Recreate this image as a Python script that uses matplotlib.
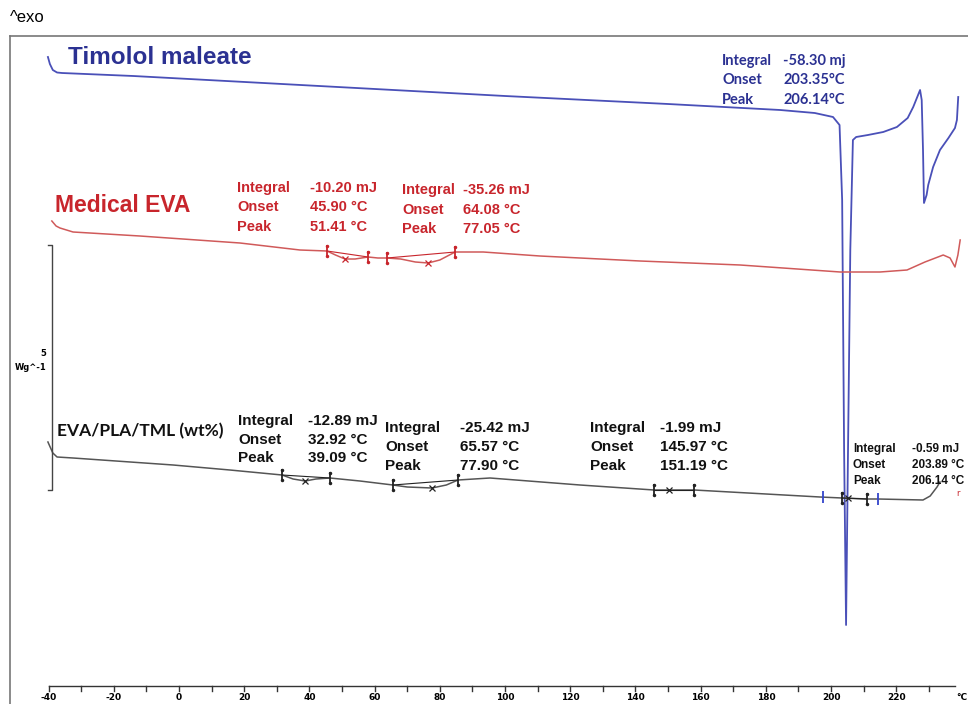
import numpy as np
import matplotlib.pyplot as plt
from matplotlib.lines import Line2D

# DSC traces, temperature in degC, signal (downwards = endo)
tml_T = [-40.2, -39.6, -38.7, -37.4, -35.9, -14.0, 43.0, 100.0, 150.0, 184.4, 195.0, 200.6,
         202.6, 203.4, 204.0, 204.6, 205.2, 205.9, 206.7, 207.7, 211.3, 216.0, 220.2, 223.5,
         225.2, 227.3, 227.8, 228.2, 228.5, 229.3, 229.8, 231.3, 233.4, 236.0, 238.0, 238.6, 239.0]
tml_y = [57, 64, 70, 72.5, 73, 76, 86, 96, 104, 110, 113, 117,
         125, 200, 450, 625, 450, 250, 140, 137, 135, 132, 127, 118,
         107, 90, 100, 150, 203, 195, 185, 167, 150, 138, 128, 120, 97]

eva_T = [-39.0, -37.7, -36.5, -32.5, -12.0, 18.7, 37.1, 45.4, 48.0, 50.9, 54.0, 58.0, 61.0,
         63.8, 68.0, 72.5, 76.4, 80.0, 84.7, 87.1, 93.3, 110.7, 141.4, 172.1, 202.8, 215.0,
         223.3, 228.8, 234.4, 236.5, 238.0, 238.9, 239.6]
eva_y = [221, 226, 228, 232, 236, 243, 250, 251, 255, 259, 259, 257, 258,
         258, 259, 262, 263, 260, 252, 252, 252, 256, 261, 265, 272, 272,
         270, 262, 255, 258, 267, 255, 240]

mix_T = [-40.2, -38.7, -37.4, -32.5, -1.8, 15.6, 31.6, 35.0, 38.7, 42.0, 46.3, 55.5, 65.6,
         70.0, 77.6, 82.0, 85.6, 95.4, 123.0, 145.7, 150.3, 158.0, 196.6, 203.4, 211.0,
         214.4, 228.2, 230.4, 232.5, 233.4]
mix_y = [442, 453, 457, 458, 465, 470, 475, 479, 481, 479, 478, 481, 485,
         487, 488, 485, 480, 478, 485, 490, 490, 490, 497, 498, 499,
         499, 500, 496, 487, 482]

# integration limits and peaks
eva_lim = [(45.4, 58.0), (63.8, 84.7)]
eva_pk = [50.9, 76.4]
mix_lim = [(31.6, 46.3), (65.6, 85.6), (145.7, 158.0), (203.4, 211.0)]
mix_pk = [38.7, 77.6, 150.3, 205.2]
tml_lim = (197.5, 214.4)

tick_T = list(range(-40, 240, 10))
tick_lab = [-40, -20, 0, 20, 40, 60, 80, 100, 120, 140, 160, 180, 200, 220]

blue_l, blue_t = '#4a50b8', '#2b3192'
red_l, red_t = '#d05a5a', '#c8252c'

fig = plt.figure(figsize=(9.68, 7.04), dpi=100)
ax = fig.add_axes([0, 0, 1, 1])
ax.set_xlim(-54.9, 242.0)
ax.set_ylim(704, 0)
ax.axis('off')

# frame
fig.add_artist(Line2D([10/968, 10/968], [0, 1-36/704], color='#777777', lw=1.2))
fig.add_artist(Line2D([10/968, 1], [1-36/704, 1-36/704], color='#777777', lw=1.2))
fig.text(10/968, 1-18/704, '^exo', fontsize=12, va='center', ha='left', family='Liberation Sans')

ax.plot(tml_T, tml_y, color=blue_l, lw=1.3)
ax.plot(eva_T, eva_y, color=red_l, lw=1.1)
ax.plot(mix_T, mix_y, color='#555555', lw=1.1)

def marks(T, y, lims, pks, col):
    for a, b in lims:
        ya, yb = np.interp([a, b], T, y)
        ax.plot([a, b], [ya, yb], color=col, lw=0.8)
        ax.plot([a, b], [ya, yb], ls='none', marker='|', ms=9, mew=1.3, color=col)
        ax.plot([a, b], [ya - 5, yb - 5], ls='none', marker='.', ms=3, color=col)
        ax.plot([a, b], [ya + 5, yb + 5], ls='none', marker='.', ms=3, color=col)
    py = np.interp(pks, T, y)
    ax.plot(pks, py, ls='none', marker='x', ms=5, mew=0.9, color=col)

marks(eva_T, eva_y, eva_lim, eva_pk, red_t)
marks(mix_T, mix_y, mix_lim, mix_pk, '#222222')
ty = np.interp(tml_lim, mix_T, mix_y)
ax.plot(tml_lim, ty, ls='none', marker='|', ms=9, mew=1.3, color='#3344cc')

# titles
ax.text(-34.0, 58, 'Timolol maleate', color=blue_t, fontsize=17.5, fontweight='bold',
        va='center', family='Liberation Sans')
ax.text(-38.0, 206, 'Medical EVA', color=red_t, fontsize=16.5, fontweight='bold',
        va='center', family='Liberation Sans')
ax.text(-37.4, 431, 'EVA/PLA/TML (wt%)', color='#111111', fontsize=12.5, fontweight='bold',
        va='center', family='Lato')

def block(xl, xv, ys, vals, col, fs, fam='Liberation Sans'):
    for lab, v, y in zip(['Integral', 'Onset', 'Peak'], vals, ys):
        ax.text(xl, y, lab, color=col, fontsize=fs, fontweight='bold', va='center', family=fam)
        ax.text(xv, y, v, color=col, fontsize=fs, fontweight='bold', va='center', family=fam)

block(166.6, 185.3, [61, 80, 100], ['-58.30 mj', '203.35°C', '206.14°C'], blue_t, 10.5, 'Lato')
block(17.8, 40.2, [188, 207, 227], ['-10.20 mJ', '45.90 °C', '51.41 °C'], red_t, 10.5)
block(68.4, 87.0, [190, 210, 229], ['-35.26 mJ', '64.08 °C', '77.05 °C'], red_t, 10.5)
block(18.1, 39.6, [421, 440, 458], ['-12.89 mJ', '32.92 °C', '39.09 °C'], '#111111', 11)
block(63.2, 86.2, [428, 447, 466], ['-25.42 mJ', '65.57 °C', '77.90 °C'], '#111111', 11)
block(126.1, 147.5, [428, 447, 466], ['-1.99 mJ', '145.97 °C', '151.19 °C'], '#111111', 11)
block(206.7, 224.8, [449, 465, 481], ['-0.59 mJ', '203.89 °C', '206.14 °C'], '#111111', 8.5)
ax.text(238.3, 494, 'r', color=red_t, fontsize=6, va='center')

# scale bar 5 W/g
ax.plot([-40.2, -38.8, -38.8, -40.2], [245, 245, 490, 490], color='#444444', lw=1)
ax.text(-40.7, 354, '5', fontsize=6, fontweight='bold', ha='right', va='center')
ax.text(-40.7, 367, 'Wg^-1', fontsize=6, fontweight='bold', ha='right', va='center')

# temperature axis
ax.plot([-40, 238], [686, 686], color='#333333', lw=1)
for t in tick_T:
    ax.plot([t, t], [686, 691], color='#333333', lw=1)
for t in tick_lab:
    ax.text(t, 698, str(t), fontsize=6.5, fontweight='bold', ha='center', va='center')
ax.text(240, 698, '°C', fontsize=6.5, fontweight='bold', ha='center', va='center')

plt.savefig('out.png', dpi=100)
